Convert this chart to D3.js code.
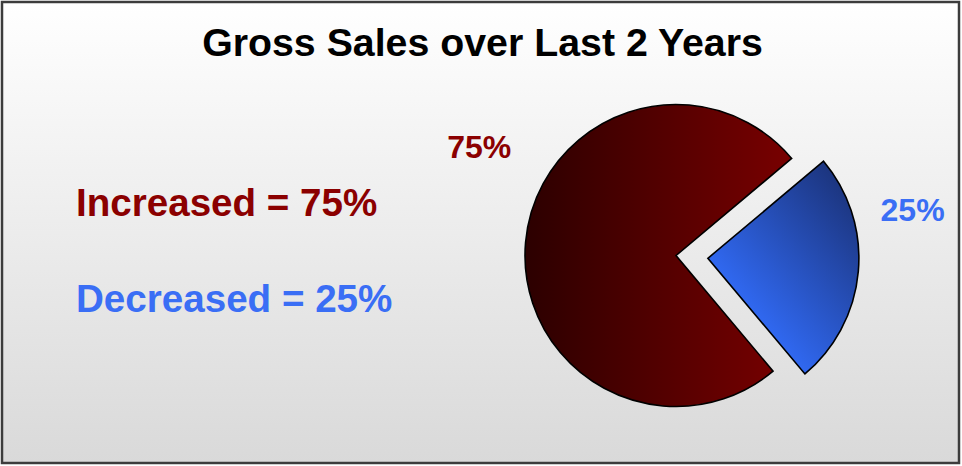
<!DOCTYPE html>
<html>
<head>
<meta charset="utf-8">
<script src="https://cdn.jsdelivr.net/npm/d3@7"></script>
<style>
  html, body { margin: 0; padding: 0; background: #fff; }
  text { font-family: "Liberation Sans", Arial, sans-serif; font-weight: bold; }
</style>
</head>
<body>
<div id="chart"></div>
<script>
// data
const categories = ['Increased', 'Decreased'];
const values = [75, 25];
const sliceLabels = ['75%', '25%'];
const legendLabels = ['Increased = 75%', 'Decreased = 25%'];
const title = 'Gross Sales over Last 2 Years';

document.addEventListener('DOMContentLoaded', function() {
    const width = 962;
    const height = 466;
    const radius = 151;
    const cx = 676, cy = 255.5;
    const explode = 32;
    const deg = Math.PI / 180;

    const textColor = ['#8B0000', '#3A6EF5'];

    const svg = d3.select('#chart').append('svg')
        .attr('width', width)
        .attr('height', height);

    const defs = svg.append('defs');

    const bg = defs.append('linearGradient')
        .attr('id', 'bg').attr('x1', 0).attr('y1', 0).attr('x2', 0).attr('y2', 1);
    bg.append('stop').attr('offset', '0%').attr('stop-color', '#ffffff');
    bg.append('stop').attr('offset', '100%').attr('stop-color', '#d9d9d9');

    // red slice: horizontal dark -> lighter (coords relative to pie centre)
    const red = defs.append('linearGradient')
        .attr('id', 'g-red').attr('gradientUnits', 'userSpaceOnUse')
        .attr('x1', -radius).attr('y1', 0).attr('x2', radius * 0.8).attr('y2', 0);
    red.append('stop').attr('offset', '0%').attr('stop-color', '#2c0000');
    red.append('stop').attr('offset', '100%').attr('stop-color', '#7a0000');

    // blue slice: bright along the lower edge -> navy at the upper corner
    const blue = defs.append('linearGradient')
        .attr('id', 'g-blue').attr('gradientUnits', 'userSpaceOnUse')
        .attr('x1', 0).attr('y1', 0).attr('x2', 116).attr('y2', -97);
    blue.append('stop').attr('offset', '0%').attr('stop-color', '#3068f0');
    blue.append('stop').attr('offset', '100%').attr('stop-color', '#1c357f');

    svg.append('rect')
        .attr('x', 2).attr('y', 2)
        .attr('width', 957).attr('height', 461)
        .attr('fill', 'url(#bg)')
        .attr('stroke', '#3c3c3c')
        .attr('stroke-width', 2.5);

    svg.append('text')
        .attr('x', 482.5).attr('y', 56)
        .attr('text-anchor', 'middle')
        .attr('font-size', 39.3)
        .attr('fill', '#000')
        .text(title);

    // legend text on the left
    svg.selectAll('.legend-text').data(legendLabels).enter()
        .append('text').classed('legend-text', true)
        .attr('x', 76)
        .attr('y', function(d, i) { return 216 + i * 96; })
        .attr('font-size', 38.6)
        .attr('fill', function(d, i) { return textColor[i]; })
        .text(function(d) { return d; });

    const pie = d3.pie()
        .value(function(d) { return d; })
        .sort(null)
        .startAngle(140 * deg)
        .endAngle(500 * deg);

    const arc = d3.arc().innerRadius(0).outerRadius(radius);

    const arcs = pie(values);
    const fills = ['url(#g-red)', 'url(#g-blue)'];
    const exploded = [false, true];

    const g = svg.append('g').attr('transform', 'translate(' + cx + ',' + cy + ')');

    g.selectAll('path').data(arcs).enter()
        .append('path')
        .attr('d', arc)
        .attr('fill', function(d, i) { return fills[i]; })
        .attr('stroke', '#000')
        .attr('stroke-width', 1.6)
        .attr('stroke-linejoin', 'miter')
        .attr('transform', function(d, i) {
            if (!exploded[i]) return null;
            const mid = (d.startAngle + d.endAngle) / 2;
            return 'translate(' + (Math.sin(mid) * explode) + ',' + (-Math.cos(mid) * explode) + ')';
        });

    // percentage labels around the pie
    const labelPlace = [{ angle: 299, r: 225 }, { angle: 79, r: 241 }];
    g.selectAll('.slice-label').data(arcs).enter()
        .append('text').classed('slice-label', true)
        .attr('x', function(d, i) { return Math.sin(labelPlace[i].angle * deg) * labelPlace[i].r; })
        .attr('y', function(d, i) { return -Math.cos(labelPlace[i].angle * deg) * labelPlace[i].r; })
        .attr('dy', '0.35em')
        .attr('text-anchor', 'middle')
        .attr('font-size', 32)
        .attr('fill', function(d, i) { return textColor[i]; })
        .text(function(d, i) { return sliceLabels[i]; });
});
</script>
</body>
</html>
